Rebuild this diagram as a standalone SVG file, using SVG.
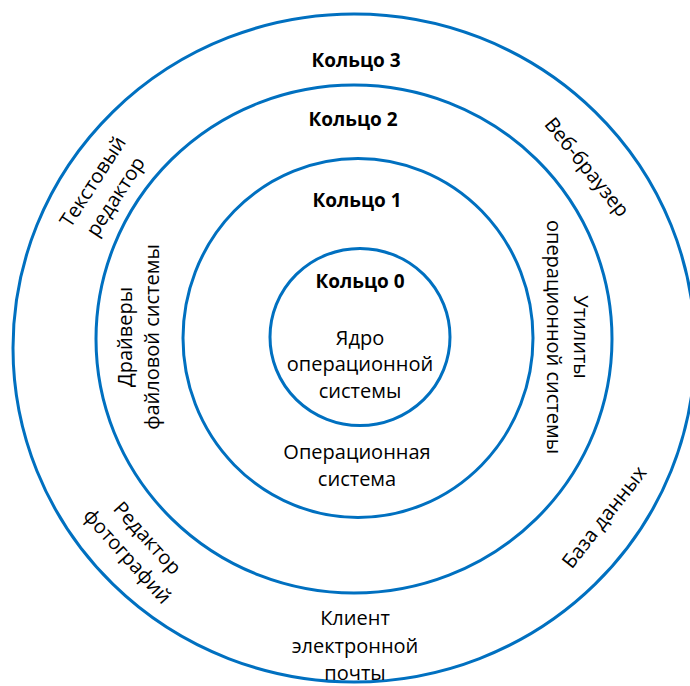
<svg xmlns="http://www.w3.org/2000/svg" width="690" height="686" viewBox="0 0 690 686">
<style>
.ring{fill:none;stroke:#0070C0;stroke-width:3}
.t{font-family:"Open Sans","Noto Sans","Liberation Sans",sans-serif;font-size:20px;fill:#000;text-anchor:middle}
.b{font-family:"Open Sans","Noto Sans","Liberation Sans",sans-serif;font-size:19px;font-weight:bold;fill:#000;text-anchor:middle}
</style>
<rect width="690" height="686" fill="#fff"/>
<g id="ring3">
<ellipse class="ring" cx="354" cy="348" rx="341" ry="334"/>
<text class="b" x="356" y="67">Кольцо 3</text>
<g transform="translate(104,189) rotate(-57)"><text class="t" x="0" y="-6.5">Текстовый</text><text class="t" x="0" y="20.5">редактор</text></g>
<g transform="translate(587,167) rotate(51)"><text class="t" x="0" y="7">Веб-браузер</text></g>
<g transform="translate(137.5,547) rotate(48)"><text class="t" x="0" y="-6.5">Редактор</text><text class="t" x="0" y="20.5">фотографий</text></g>
<g transform="translate(604,517) rotate(-52)"><text class="t" x="0" y="7">База данных</text></g>
<text class="t" x="355" y="625">Клиент</text>
<text class="t" x="355" y="653">электронной</text>
<text class="t" x="355" y="680">почты</text>
</g>
<g id="ring2">
<ellipse class="ring" cx="354" cy="339" rx="258" ry="254"/>
<text class="b" x="353" y="126">Кольцо 2</text>
<g transform="translate(145,337) rotate(-90)"><text class="t" x="0" y="-13">Драйверы</text><text class="t" x="0" y="14">файловой системы</text></g>
<g transform="translate(560,337) rotate(90)"><text class="t" x="0" y="-14">Утилиты</text><text class="t" x="0" y="13">операционной системы</text></g>
</g>
<g id="ring1">
<ellipse class="ring" cx="358" cy="338" rx="175" ry="179.5"/>
<text class="b" x="357" y="207">Кольцо 1</text>
<text class="t" x="357" y="459">Операционная</text>
<text class="t" x="357" y="486">система</text>
</g>
<g id="ring0">
<ellipse class="ring" cx="360" cy="337" rx="90" ry="88.5"/>
<text class="b" x="360" y="288">Кольцо 0</text>
<text class="t" x="360" y="345">Ядро</text>
<text class="t" x="360" y="371">операционной</text>
<text class="t" x="360" y="398">системы</text>
</g>
<g id="connectors"/>
</svg>
